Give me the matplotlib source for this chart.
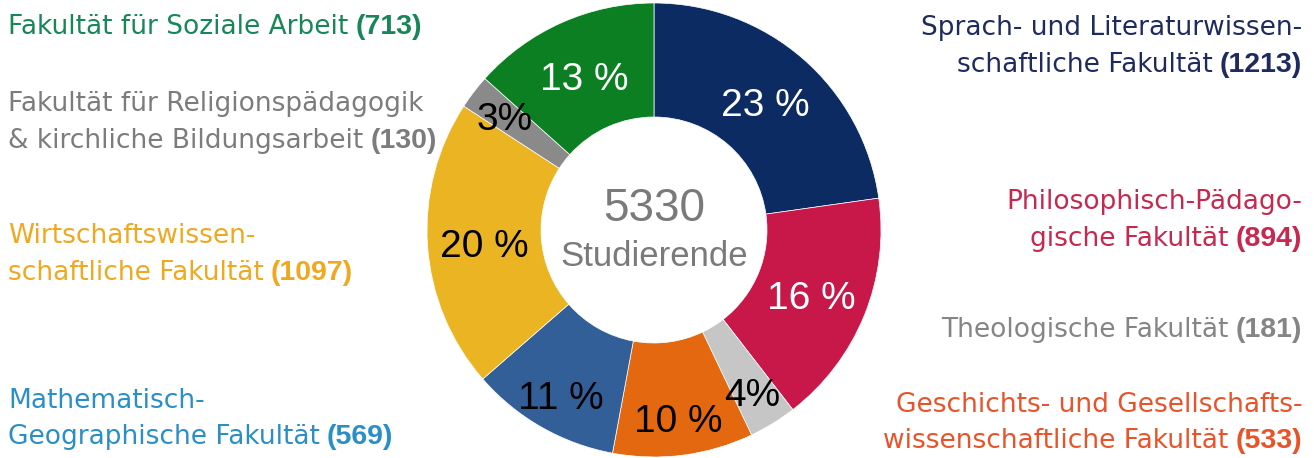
import matplotlib.pyplot as plt
import numpy as np

plt.rcParams['font.family'] = ['Liberation Sans', 'DejaVu Sans']

# clockwise from 12 o'clock
faculties = [
    "Sprach- und Literaturwissen-\nschaftliche Fakultät",
    "Philosophisch-Pädago-\ngische Fakultät",
    "Theologische Fakultät",
    "Geschichts- und Gesellschafts-\nwissenschaftliche Fakultät",
    "Mathematisch-\nGeographische Fakultät",
    "Wirtschaftswissen-\nschaftliche Fakultät",
    "Fakultät für Religionspädagogik\n& kirchliche Bildungsarbeit",
    "Fakultät für Soziale Arbeit",
]
students = [1213, 894, 181, 533, 569, 1097, 130, 713]
percents = [23, 16, 4, 10, 11, 20, 3, 13]
total = 5330

slice_colors = ['#0c2b63', '#c8184a', '#c6c6c6', '#e3680f',
                '#335f98', '#ebb423', '#8a8a8a', '#0b7f22']
text_colors = ['#1f2b5e', '#c8274f', '#858585', '#e8532a',
               '#2a8fc6', '#f0a81e', '#7c7c7c', '#178758']
pct_colors = ['white', 'white', 'black', 'black',
              'black', 'black', 'black', 'white']

# first baseline of each label (x, y, side), pixels from bottom
label_pos = [(1302, 423, 'right'), (1302, 249, 'right'), (1302, 121, 'right'),
             (1302, 46, 'right'), (8, 50, 'left'), (8, 215, 'left'),
             (8, 347, 'left'), (8, 424, 'left')]
line_step = 36.5
gap = 7

fig = plt.figure(figsize=(13.14, 4.58), dpi=100)
ax = fig.add_axes([0, 0, 1, 1])

cx, cy, R = 654, 228, 227
wedges, _ = ax.pie(students, colors=slice_colors, startangle=90, counterclock=False,
                   radius=R, center=(cx, cy),
                   wedgeprops=dict(width=114, edgecolor='white', linewidth=0.5))
ax.set_xlim(0, 1314)
ax.set_ylim(0, 458)
ax.set_aspect('equal')
ax.axis('off')

for w, p, c in zip(wedges, percents, pct_colors):
    ang = np.deg2rad((w.theta1 + w.theta2) / 2)
    r = R * (0.75 if p > 11 else 0.83)
    txt = f"{p}%" if p < 10 else f"{p} %"
    ax.text(cx + r * np.cos(ang), cy + r * np.sin(ang) - 5, txt, color=c,
            fontsize=28, ha='center', va='center')

renderer = fig.canvas.get_renderer()
reg = dict(fontsize=19, family=['DejaVu Sans'], va='baseline')
bold = dict(fontsize=20.5, family=['Liberation Sans'], weight='bold', va='baseline')

for name, n, col, (x, y, side) in zip(faculties, students, text_colors, label_pos):
    lines = name.split('\n')
    for i, line in enumerate(lines):
        yy = y - i * line_step
        last = i == len(lines) - 1
        if side == 'right':
            if last:
                b = ax.text(x, yy, f"({n})", color=col, ha='right', **bold)
                bw = b.get_window_extent(renderer).width
                ax.text(x - bw - gap, yy, line, color=col, ha='right', **reg)
            else:
                ax.text(x, yy, line, color=col, ha='right', **reg)
        else:
            t = ax.text(x, yy, line, color=col, ha='left', **reg)
            if last:
                tw = t.get_window_extent(renderer).width
                ax.text(x + tw + gap, yy, f"({n})", color=col, ha='left', **bold)

ax.text(cx, 249, str(total), color='#7a7a7a', fontsize=33, ha='center', va='center')
ax.text(cx, 201, "Studierende", color='#7a7a7a', fontsize=25, ha='center', va='center')

fig.savefig('out.png', dpi=100)
